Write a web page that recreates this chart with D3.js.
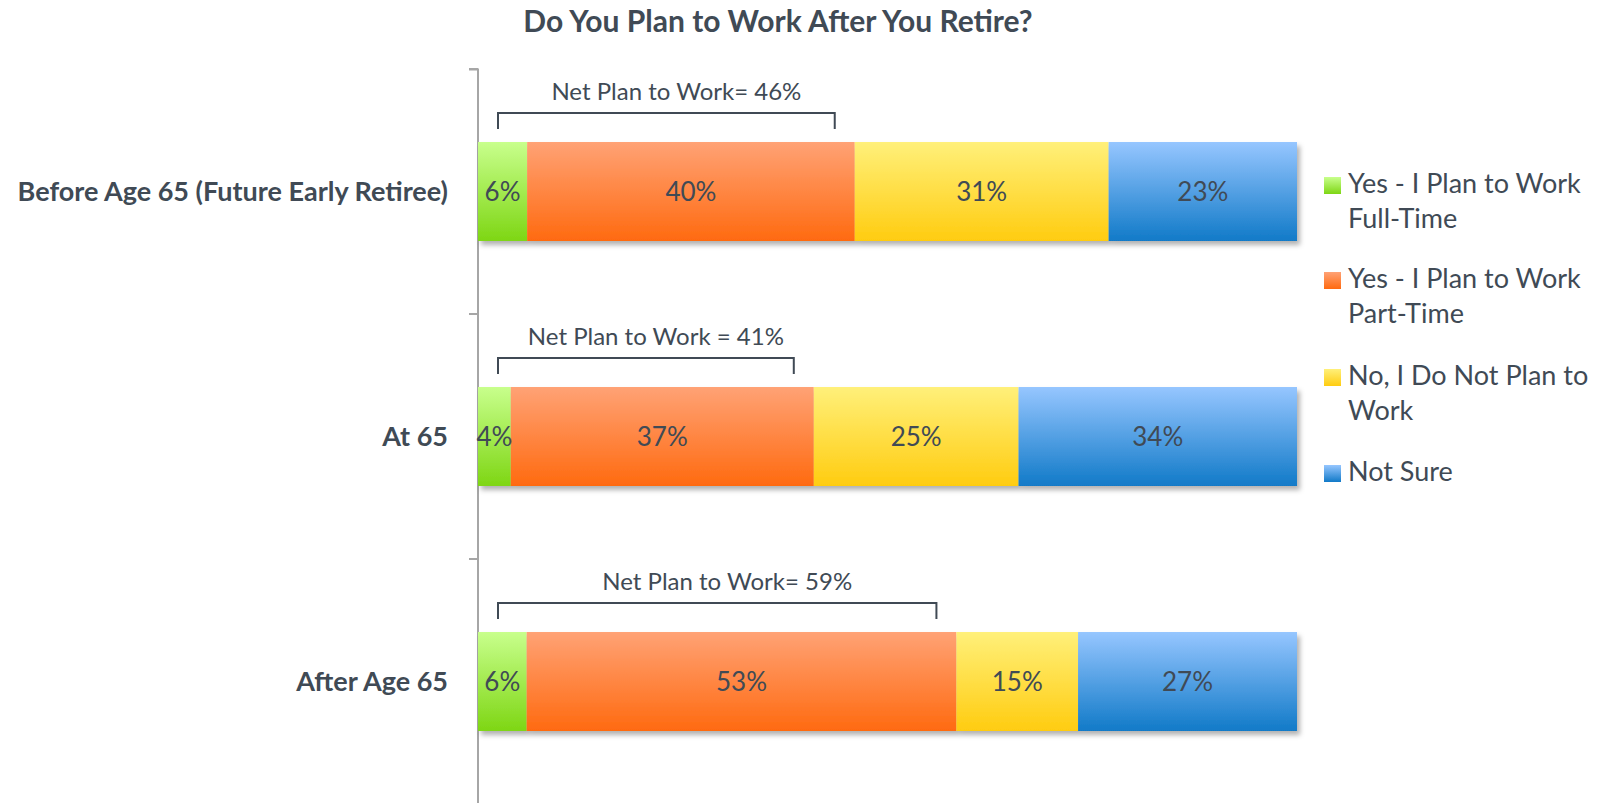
<!DOCTYPE html>
<html>
<head>
<meta charset="utf-8">
<script src="https://cdnjs.cloudflare.com/ajax/libs/d3/7.8.5/d3.min.js"></script>
<style>
  body { margin: 0; background: #fff; }
  svg text { font-family: Lato, "Open Sans", sans-serif; fill: #404a55; }
</style>
</head>
<body>
<svg width="1597" height="803"></svg>
<script>
const categories = ["Before Age 65 (Future Early Retiree)", "At 65", "After Age 65"];
const seriesNames = ["Yes - I Plan to Work Full-Time", "Yes - I Plan to Work Part-Time", "No, I Do Not Plan to Work", "Not Sure"];
const legendLines = [["Yes - I Plan to Work", "Full-Time"], ["Yes - I Plan to Work", "Part-Time"], ["No, I Do Not Plan to", "Work"], ["Not Sure"]];
const fullTime = [6, 4, 6];
const partTime = [40, 37, 53];
const notPlan = [31, 25, 15];
const notSure = [23, 34, 27];
const netLabels = ["Net Plan to Work= 46%", "Net Plan to Work = 41%", "Net Plan to Work= 59%"];

const colors = [
  ["#c8ff8c", "#7ed614"],
  ["#ffa275", "#ff6a10"],
  ["#fff07a", "#ffcc10"],
  ["#96c6ff", "#117ac8"]
];

const rows = categories.map((c, i) => ({
  cat: c,
  s0: fullTime[i], s1: partTime[i], s2: notPlan[i], s3: notSure[i]
}));
const keys = ["s0", "s1", "s2", "s3"];

// 100% stacked, last row adds to 101
const stack = d3.stack().keys(keys).offset(d3.stackOffsetExpand);
const stacked = stack(rows);

const svg = d3.select("svg");
const defs = svg.append("defs");

colors.forEach((c, i) => {
  const g = defs.append("linearGradient").attr("id", "grad" + i)
    .attr("x1", 0).attr("y1", 0).attr("x2", 0).attr("y2", 1);
  g.append("stop").attr("offset", "0%").attr("stop-color", c[0]);
  g.append("stop").attr("offset", "100%").attr("stop-color", c[1]);
});

const f = defs.append("filter").attr("id", "shadow")
  .attr("x", "-5%").attr("y", "-20%").attr("width", "110%").attr("height", "150%");
f.append("feDropShadow").attr("dx", 3).attr("dy", 4).attr("stdDeviation", 2.5)
  .attr("flood-color", "#000").attr("flood-opacity", 0.3);

const x = d3.scaleLinear().domain([0, 1]).range([478, 1297]);
const y = d3.scaleBand().domain(categories).range([69, 804]).padding(0);
const barH = y.bandwidth() * 0.404;
const barY = d => y(d) + (y.bandwidth() - barH) / 2;

// title
svg.append("text")
  .attr("x", 778).attr("y", 32)
  .attr("text-anchor", "middle")
  .style("font-size", "30px").style("font-weight", "bold")
  .text("Do You Plan to Work After You Retire?");

// axis
const axis = svg.append("g").attr("transform", "translate(478,0)")
  .call(d3.axisLeft(y).tickSize(9).tickFormat(""));
axis.select(".domain").attr("stroke", "#a6a6a6").attr("stroke-width", 2)
  .attr("d", "M-9,69.5H0V804");
axis.selectAll(".tick line").attr("stroke", "#a6a6a6").attr("stroke-width", 2)
  .attr("transform", d => `translate(0,${-y.bandwidth() / 2})`);

// row labels
svg.append("g").selectAll("text")
  .data(categories).join("text")
  .attr("x", 448)
  .attr("y", d => y(d) + y.bandwidth() / 2 + 9)
  .attr("text-anchor", "end")
  .style("font-size", "27px").style("font-weight", "bold")
  .text(d => d);

// bars
const barsG = svg.append("g").attr("filter", "url(#shadow)");
stacked.forEach((s, si) => {
  barsG.append("g").selectAll("rect")
    .data(s).join("rect")
    .attr("x", d => x(d[0]))
    .attr("width", d => x(d[1]) - x(d[0]))
    .attr("y", d => barY(d.data.cat))
    .attr("height", barH)
    .attr("fill", `url(#grad${si})`);
});

// value labels
stacked.forEach((s, si) => {
  svg.append("g").selectAll("text")
    .data(s).join("text")
    .attr("x", d => (x(d[0]) + x(d[1])) / 2)
    .attr("y", d => barY(d.data.cat) + barH / 2 + 9)
    .attr("text-anchor", "middle")
    .style("font-size", "26px")
    .text(d => d.data[keys[si]] + "%");
});

// net brackets
const net = stacked[1];
categories.forEach((c, i) => {
  const top = barY(c);
  const x0 = x(0) + 20;
  const x1 = x(net[i][1]) - 20;
  svg.append("path")
    .attr("d", `M${x0},${top - 13}V${top - 29}H${x1}V${top - 13}`)
    .attr("fill", "none").attr("stroke", "#404a55").attr("stroke-width", 2);
  svg.append("text")
    .attr("x", (x0 + x1) / 2 + 10)
    .attr("y", top - 42)
    .attr("text-anchor", "middle")
    .style("font-size", "24px")
    .text(netLabels[i]);
});

// legend
const leg = svg.append("g").attr("transform", "translate(1324,0)");
const legY = [193, 288, 385, 481];
legendLines.forEach((lines, i) => {
  leg.append("rect")
    .attr("x", 0).attr("y", legY[i] - 16)
    .attr("width", 17).attr("height", 17)
    .attr("fill", `url(#grad${i})`);
  const t = leg.append("text").attr("x", 24).attr("y", legY[i])
    .style("font-size", "27px");
  lines.forEach((l, j) => {
    t.append("tspan").attr("x", 24).attr("dy", j === 0 ? 0 : 35).text(l);
  });
});
</script>
</body>
</html>
